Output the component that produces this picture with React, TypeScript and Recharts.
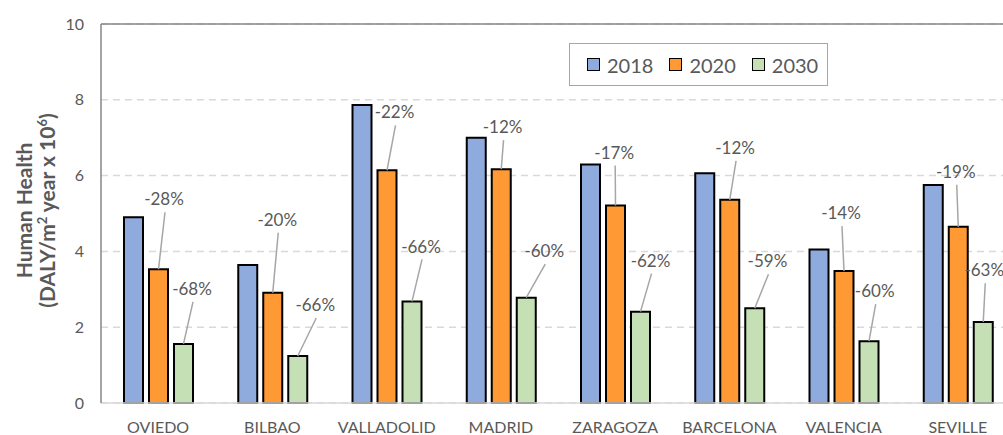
import React from 'react';
import { BarChart, Bar, XAxis, YAxis, CartesianGrid, Legend, LabelList, ReferenceLine } from 'recharts';

const cities = ['OVIEDO', 'BILBAO', 'VALLADOLID', 'MADRID', 'ZARAGOZA', 'BARCELONA', 'VALENCIA', 'SEVILLE'];
const values2018 = [4.9, 3.64, 7.86, 7.0, 6.29, 6.06, 4.05, 5.75];
const values2020 = [3.53, 2.91, 6.14, 6.17, 5.21, 5.36, 3.48, 4.65];
const values2030 = [1.56, 1.24, 2.68, 2.78, 2.41, 2.5, 1.63, 2.14];
const change2020 = ['-28%', '-20%', '-22%', '-12%', '-17%', '-12%', '-14%', '-19%'];
const change2030 = ['-68%', '-66%', '-66%', '-60%', '-62%', '-59%', '-60%', '-63%'];
const yTicks = [0, 2, 4, 6, 8, 10];

// callout layout (pixels): [shift of label from bar centre, rise of label above bar top]
const callout2020 = [[5.5, 70], [4.5, 73], [7.5, 58], [1.3, 42], [-1.3, 53], [5.3, 52], [-3, 58], [-2.5, 55]];
const callout2030 = [[8.5, 55], [17.5, 51], [9, 55], [18, 46.5], [10, 51], [12.7, 47], [5.7, 50], [1, 51.7]];

const data = cities.map((city, i) => ({
  city,
  v2018: values2018[i],
  v2020: values2020[i],
  v2030: values2030[i],
}));

const GREY = '#595959';

const makeCallout = (texts: string[], layout: number[][], values: number[]) => (props: any) => {
  const { x, y, width } = props;
  let index = props.index;
  if (index === undefined || index === null) index = values.indexOf(Number(props.value));
  if (index < 0 || !layout[index]) return null;
  const cx = Number(x) + Number(width) / 2;
  const top = Number(y);
  const [dx, rise] = layout[index];
  const tx = cx + dx;
  const ty = top - rise;
  return (
    <g>
      <line x1={tx + 1} y1={ty + 13} x2={cx} y2={top} stroke="#a6a6a6" strokeWidth={1.5} />
      <text x={tx} y={ty} dy="0.36em" textAnchor="middle" fontSize={17} fill={GREY} fontFamily="Lato">
        {texts[index]}
      </text>
    </g>
  );
};

const YLabel = (props: any) => {
  const vb = props.viewBox || { y: 24, height: 379 };
  const cy = vb.y + vb.height / 2 - 3;
  return (
    <g fontFamily="Lato" fontWeight="bold" fontSize={21} fill={GREY}>
      <text x={24} y={cy} textAnchor="middle" dy="0.36em" transform={`rotate(-90 24 ${cy})`}>
        Human Health
      </text>
      <text x={47} y={cy} textAnchor="middle" dy="0.36em" transform={`rotate(-90 47 ${cy})`}>
        (DALY/m
        <tspan dy={-8} fontSize={13}>2</tspan>
        <tspan dy={8}> year x 10</tspan>
        <tspan dy={-8} fontSize={13}>6</tspan>
        <tspan dy={8}>)</tspan>
      </text>
    </g>
  );
};

const LegendBox = (props: any) => {
  const payload = props.payload || [];
  return (
    <div
      style={{
        width: 259,
        height: 43,
        border: '1.5px solid #a6a6a6',
        boxSizing: 'border-box',
        display: 'flex',
        alignItems: 'center',
        paddingLeft: 17,
        fontFamily: 'Lato',
        fontSize: 20,
        color: GREY,
        background: '#fff',
      }}
    >
      {payload.map((item: any) => (
        <div key={item.value} style={{ display: 'flex', alignItems: 'center', marginRight: 16 }}>
          <div
            style={{
              width: 13,
              height: 13,
              boxSizing: 'border-box',
              border: '1.5px solid #000',
              background: item.color,
              marginRight: 7,
            }}
          />
          <span>{item.value}</span>
        </div>
      ))}
    </div>
  );
};

export default function App() {
  return (
    <div style={{ width: 1003, height: 435, overflow: 'hidden', background: '#fff', fontFamily: 'Lato' }}>
      <style>{'body{margin:0;}'}</style>
      <BarChart
        width={1015}
        height={435}
        data={data}
        margin={{ top: 24, right: 0, bottom: 0, left: 0 }}
        barGap={6}
      >
        <CartesianGrid vertical={false} stroke="#d9d9d9" strokeWidth={1.5} strokeDasharray="7 5" />
        <XAxis
          dataKey="city"
          height={32}
          axisLine={{ stroke: '#d9d9d9', strokeWidth: 1.5 }}
          tickLine={false}
          tickSize={0}
          tickMargin={19}
          tick={{ fontSize: 16, fill: GREY, fontFamily: 'Lato' }}
          interval={0}
        />
        <YAxis
          width={101}
          domain={[0, 10]}
          ticks={yTicks}
          axisLine={{ stroke: '#868686', strokeWidth: 1.5 }}
          tickLine={false}
          tickSize={0}
          tickMargin={17}
          tick={{ fontSize: 16, fill: GREY, fontFamily: 'Lato' }}
          label={{ content: YLabel }}
        />
        <ReferenceLine y={10} stroke="#868686" strokeWidth={1.5} />
        <Legend
          layout="horizontal"
          align="center"
          verticalAlign="middle"
          content={LegendBox}
          wrapperStyle={{ left: 569, top: 43, width: 259, height: 43 }}
        />
        <Bar dataKey="v2018" name="2018" fill="#8faadc" stroke="#000" strokeWidth={2} barSize={19} isAnimationActive={false} />
        <Bar dataKey="v2020" name="2020" fill="#ff9933" stroke="#000" strokeWidth={2} barSize={19} isAnimationActive={false}>
          <LabelList dataKey="v2020" content={makeCallout(change2020, callout2020, values2020)} />
        </Bar>
        <Bar dataKey="v2030" name="2030" fill="#c5e0b4" stroke="#000" strokeWidth={2} barSize={19} isAnimationActive={false}>
          <LabelList dataKey="v2030" content={makeCallout(change2030, callout2030, values2030)} />
        </Bar>
      </BarChart>
    </div>
  );
}
